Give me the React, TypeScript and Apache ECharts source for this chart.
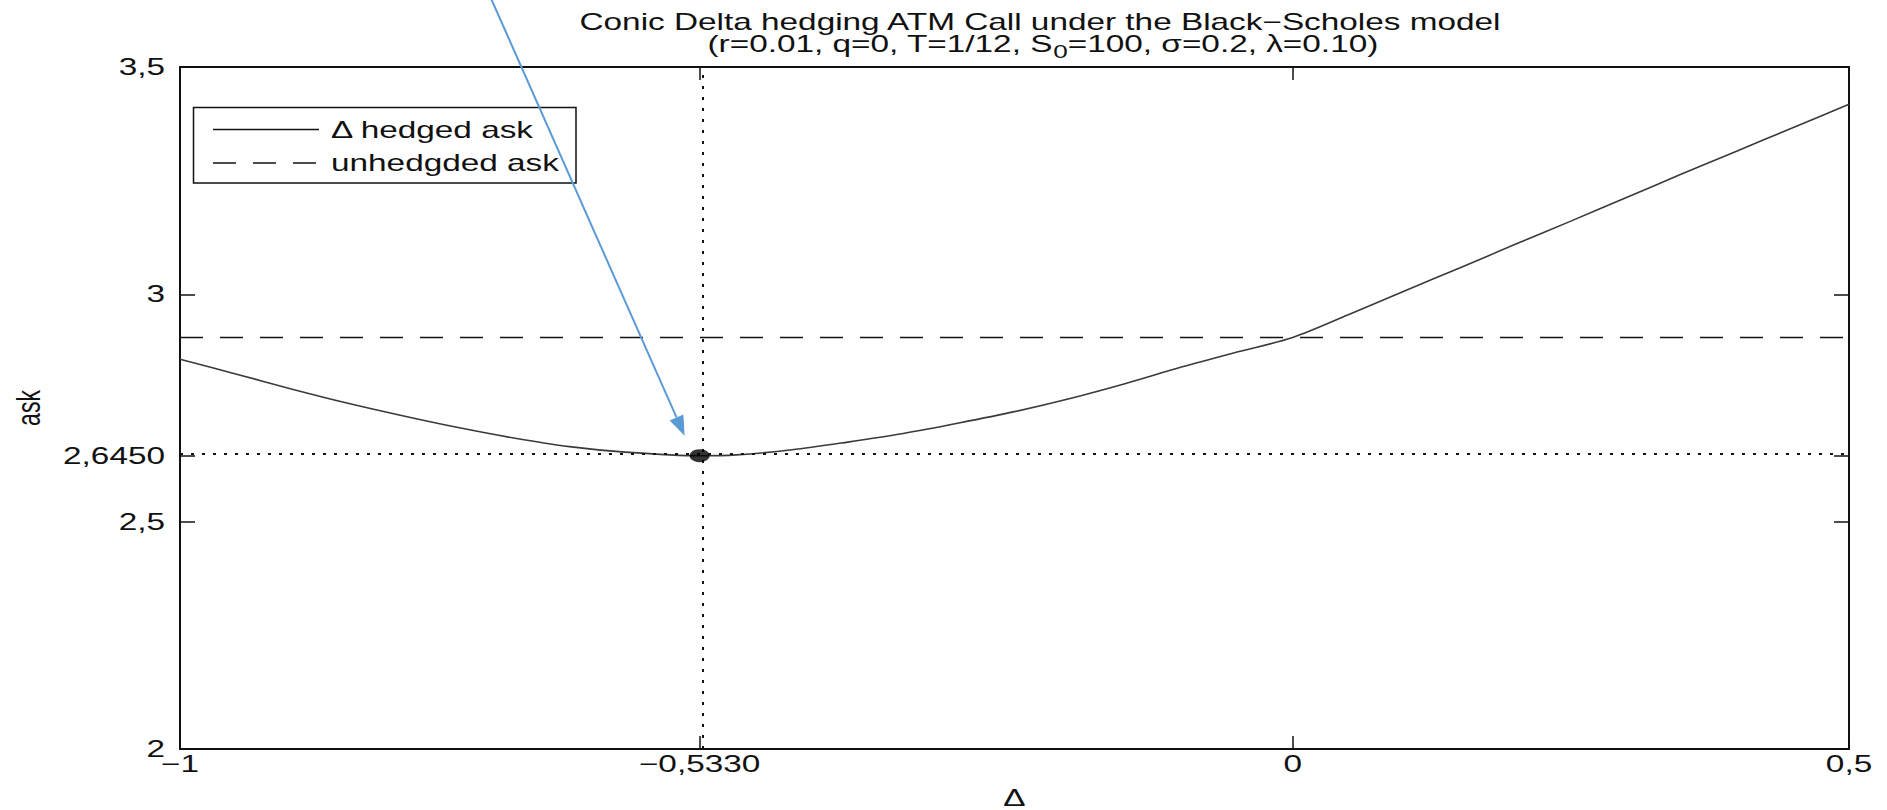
import { useEffect, useRef } from "react";
import * as echarts from "echarts";

// ---- data ----
const deltaGrid = [-1, -0.95, -0.9, -0.85, -0.8, -0.75, -0.7, -0.65, -0.6, -0.533, -0.5, -0.45, -0.4, -0.35, -0.3, -0.25, -0.2, -0.15, -0.1, -0.05, 0, 0.05, 0.1, 0.15, 0.2, 0.25, 0.3, 0.35, 0.4, 0.45, 0.5];
const hedgedAsk = [2.857, 2.825, 2.792, 2.761, 2.733, 2.707, 2.684, 2.665, 2.653, 2.645, 2.647, 2.658, 2.675, 2.694, 2.717, 2.742, 2.771, 2.804, 2.84, 2.873, 2.905, 2.955, 3.007, 3.058, 3.11, 3.161, 3.213, 3.265, 3.316, 3.367, 3.418];
const unhedgedAskLevel = 2.905;
const optimalDelta = -0.533;
const minimalAsk = 2.645;

const xTicks = [-1, -0.533, 0, 0.5];
const xTickLabels = ["\u22121", "\u22120,5330", "0", "0,5"];
const yTicks = [2, 2.5, 2.645, 3, 3.5];
const yTickLabels = ["2", "2,5", "2,6450", "3", "3,5"];

const titleLine1 = "Conic Delta hedging ATM Call under the Black\u2212Scholes model";
const subtitleParts = ["(r=0.01, q=0, T=1/12, S", "0", "=100, \u03c3=0.2, \u03bb=0.10)"];
const legendNames = ["\u0394 hedged ask", "unhedgded ask"];
const xAxisName = "\u0394";
const yAxisName = "ask";

const FONT_FAMILY = '"Liberation Sans", Arial, Helvetica, sans-serif';
const FS = 23;
const SX = 1.45;
const INK = "#111";

function measure(text: string, size: number): number {
  const c = document.createElement("canvas");
  const ctx = c.getContext("2d");
  if (!ctx) return text.length * size * 0.55;
  ctx.font = `${size}px ${FONT_FAMILY}`;
  return ctx.measureText(text).width;
}

function txt(text: string, x: number, y: number, align: string, extra: any = {}) {
  return {
    type: "text",
    x,
    y,
    scaleX: SX,
    z: 100,
    ...extra,
    style: {
      text,
      font: `${FS}px ${FONT_FAMILY}`,
      fill: INK,
      align,
      textAlign: align,
      verticalAlign: "middle",
      textVerticalAlign: "middle",
      ...(extra.style || {}),
    },
  };
}

export default function App() {
  const ref = useRef<HTMLDivElement>(null);

  useEffect(() => {
    if (!ref.current) return;
    const chart = echarts.init(ref.current, null, { renderer: "svg" });

    const axisLine = { show: true, onZero: false, lineStyle: { color: INK, width: 2 } };
    const xAxisBase = {
      type: "value",
      min: -1,
      max: 0.5,
      axisLine,
      axisTick: { show: true, inside: true, length: 13, customValues: xTicks, lineStyle: { color: INK, width: 1.5 } },
      axisLabel: { show: false },
      splitLine: { show: false },
    };
    const yAxisBase = {
      type: "value",
      min: 2,
      max: 3.5,
      axisLine,
      axisTick: { show: true, inside: true, length: 15, customValues: yTicks, lineStyle: { color: INK, width: 1.5 } },
      axisLabel: { show: false },
      splitLine: { show: false },
    };

    const option: any = {
      animation: false,
      backgroundColor: "#ffffff",
      grid: { left: 180, right: 38, top: 67, bottom: 61, show: false },
      xAxis: [
        { ...xAxisBase, position: "bottom" },
        { ...xAxisBase, position: "top" },
      ],
      yAxis: [
        { ...yAxisBase, position: "left" },
        { ...yAxisBase, position: "right" },
      ],
      series: [
        {
          name: legendNames[0],
          type: "line",
          xAxisIndex: 0,
          yAxisIndex: 0,
          data: deltaGrid.map((d, i) => [d, hedgedAsk[i]]),
          showSymbol: false,
          smooth: 0.3,
          lineStyle: { color: "#3a3a3a", width: 1.6 },
          z: 3,
        },
        {
          name: legendNames[1],
          type: "line",
          xAxisIndex: 0,
          yAxisIndex: 0,
          data: [
            [xTicks[0], unhedgedAskLevel],
            [xTicks[xTicks.length - 1], unhedgedAskLevel],
          ],
          showSymbol: false,
          lineStyle: { color: INK, width: 1.6, type: [23, 17] },
          z: 3,
        },
        {
          type: "scatter",
          xAxisIndex: 0,
          yAxisIndex: 0,
          data: [[optimalDelta, minimalAsk]],
          symbol: "circle",
          symbolSize: [20, 13],
          itemStyle: { color: "#000" },
          z: 6,
          markLine: {
            silent: true,
            symbol: ["none", "none"],
            label: { show: false },
            lineStyle: { color: INK, type: [3, 8], width: 2 },
            data: [{ xAxis: optimalDelta }, { yAxis: minimalAsk }],
          },
        },
      ],
    };
    chart.setOption(option);

    const toPx = (x: number, y: number) => chart.convertToPixel({ seriesIndex: 0 }, [x, y]) as number[];

    const g: any[] = [];
    // title
    g.push(txt(titleLine1, 1040, 21.5, "center"));
    const w1 = measure(subtitleParts[0], FS) * SX;
    const w2 = measure(subtitleParts[1], 18) * SX;
    const w3 = measure(subtitleParts[2], FS) * SX;
    const start = 1043 - (w1 + w2 + w3) / 2;
    g.push(txt(subtitleParts[0], start, 44, "left"));
    g.push(txt(subtitleParts[1], start + w1, 52, "left", { style: { font: `18px ${FONT_FAMILY}` } }));
    g.push(txt(subtitleParts[2], start + w1 + w2, 44, "left"));

    // tick labels
    yTicks.forEach((v, i) => {
      const p = toPx(xTicks[0], v);
      g.push(txt(yTickLabels[i], 165, p[1], "right"));
    });
    xTicks.forEach((v, i) => {
      const p = toPx(v, 2);
      g.push(txt(xTickLabels[i], p[0], 764, "center"));
    });

    // axis names
    g.push(txt(xAxisName, (toPx(-1, 2)[0] + toPx(0.5, 2)[0]) / 2, 798, "center"));
    g.push({
      type: "text",
      x: 28,
      y: (toPx(-1, 2)[1] + toPx(-1, 3.5)[1]) / 2,
      rotation: Math.PI / 2,
      scaleY: SX,
      z: 100,
      style: {
        text: yAxisName,
        font: `${FS}px ${FONT_FAMILY}`,
        fill: INK,
        align: "center",
        textAlign: "center",
        verticalAlign: "middle",
        textVerticalAlign: "middle",
      },
    });

    // legend box
    const rowY = [129.5, 163];
    g.push({
      type: "rect",
      z: 90,
      shape: { x: 193.5, y: 107.5, width: 382.5, height: 75.5 },
      style: { fill: "#fff", stroke: INK, lineWidth: 1.5 },
    });
    g.push({
      type: "line",
      z: 95,
      shape: { x1: 213, y1: rowY[0], x2: 319, y2: rowY[0] },
      style: { stroke: INK, lineWidth: 1.6 },
    });
    g.push({
      type: "line",
      z: 95,
      shape: { x1: 213, y1: rowY[1], x2: 319, y2: rowY[1] },
      style: { stroke: INK, lineWidth: 1.6, lineDash: [23, 17] },
    });
    g.push(txt(legendNames[0], 331, rowY[0], "left"));
    g.push(txt(legendNames[1], 331, rowY[1], "left"));

    // blue annotation arrow pointing to the minimum
    const m = toPx(optimalDelta, minimalAsk);
    const tip = [m[0] - 15, m[1] - 20];
    const from = [tip[0] - 193, tip[1] - 436];
    const dx = tip[0] - from[0];
    const dy = tip[1] - from[1];
    const len = Math.sqrt(dx * dx + dy * dy);
    const ux = dx / len;
    const uy = dy / len;
    const headLen = 20;
    const headHalf = 7.5;
    const bx = tip[0] - ux * headLen;
    const by = tip[1] - uy * headLen;
    g.push({
      type: "line",
      z: 120,
      shape: { x1: from[0], y1: from[1], x2: bx, y2: by },
      style: { stroke: "#5B9BD5", lineWidth: 2 },
    });
    g.push({
      type: "polygon",
      z: 120,
      shape: {
        points: [
          [tip[0], tip[1]],
          [bx - uy * headHalf, by + ux * headHalf],
          [bx + uy * headHalf, by - ux * headHalf],
        ],
      },
      style: { fill: "#5B9BD5" },
    });

    chart.setOption({ graphic: { elements: g } });

    return () => chart.dispose();
  }, []);

  return (
    <div
      ref={ref}
      style={{ position: "absolute", left: 0, top: 0, width: 1887, height: 810, background: "#fff" }}
    />
  );
}
